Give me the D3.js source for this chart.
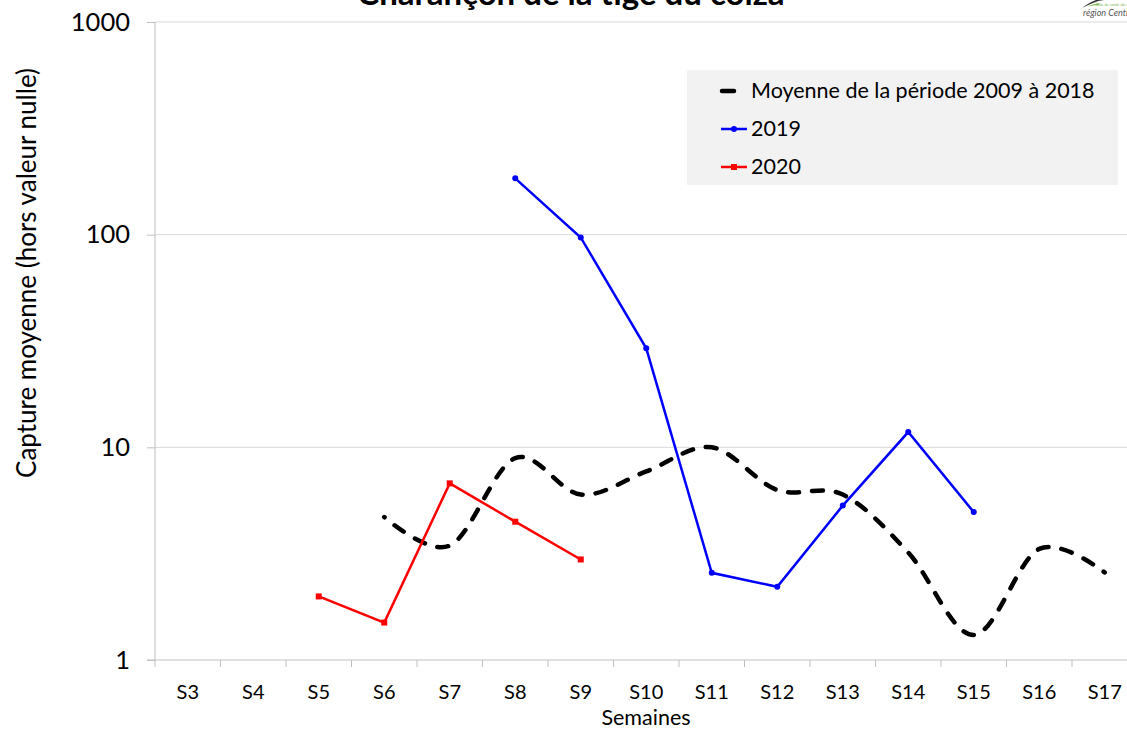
<!DOCTYPE html>
<html>
<head>
<meta charset="utf-8">
<script src="https://cdn.jsdelivr.net/npm/d3@7"></script>
<style>
  html, body { margin: 0; padding: 0; background: #fff; overflow: hidden; }
  svg { display: block; font-family: Lato, "Open Sans", sans-serif; }
</style>
</head>
<body>
<svg id="chart" width="1127" height="731"></svg>
<script>
// ---- data ----
const weeks = ["S3","S4","S5","S6","S7","S8","S9","S10","S11","S12","S13","S14","S15","S16","S17"];
const moyenne = [null, null, null, 4.7, 3.45, 8.9, 6.0, 7.7, 10.0, 6.3, 6.0, 3.2, 1.31, 3.33, 2.58];
const serie2019 = [null, null, null, null, null, 184, 97, 29.2, 2.57, 2.21, 5.32, 11.8, 4.96, null, null];
const serie2020 = [null, null, 1.99, 1.5, 6.77, 4.47, 2.97, null, null, null, null, null, null, null, null];
const yTicks = [1, 10, 100, 1000];
const chartTitle = "Charançon de la tige du colza";
const yTitle = "Capture moyenne (hors valeur nulle)";
const xTitle = "Semaines";
const legendLabels = ["Moyenne de la période 2009 à 2018", "2019", "2020"];

(function () {
// ---- layout ----
const svg = d3.select("#chart");
const pLeft = 155, pTop = 22, pBottom = 660, bandW = 65.5;
const pRight = pLeft + bandW * weeks.length;

const x = d3.scaleBand().domain(weeks).range([pLeft, pRight]).paddingInner(0).paddingOuter(0);
const y = d3.scaleLog().domain([1, 1000]).range([pBottom, pTop]);
const cx = d => x(d) + x.bandwidth() / 2;

// gridlines
svg.append("g").selectAll("line")
  .data(yTicks.filter(v => v > 1))
  .join("line")
  .attr("x1", pLeft).attr("x2", 1127)
  .attr("y1", d => y(d)).attr("y2", d => y(d))
  .attr("stroke", "#d9d9d9").attr("stroke-width", 1);

// y axis
const yAxis = svg.append("g").attr("transform", `translate(${pLeft},0)`)
  .call(d3.axisLeft(y).tickValues(yTicks).tickFormat(d3.format("d")).tickSize(8).tickPadding(17));
yAxis.select(".domain").attr("stroke", "#bfbfbf").attr("d", `M0,${pTop}V${pBottom}`);
yAxis.selectAll(".tick line").attr("stroke", "#bfbfbf");
yAxis.selectAll(".tick text").attr("font-size", 25.5).attr("fill", "#000")
  .attr("font-family", "Lato, sans-serif");

// x axis
const xAxis = svg.append("g").attr("transform", `translate(0,${pBottom})`)
  .call(d3.axisBottom(x).tickSize(0).tickPadding(0));
xAxis.select(".domain").attr("stroke", "#bfbfbf").attr("d", `M${pLeft - 8},0H${pRight}`);
xAxis.selectAll(".tick text").attr("font-size", 20).attr("fill", "#000")
  .attr("y", 39).attr("dy", 0).attr("font-family", "Lato, sans-serif");
// band boundary ticks
svg.append("g").selectAll("line")
  .data(weeks)
  .join("line")
  .attr("x1", d => x(d)).attr("x2", d => x(d))
  .attr("y1", pBottom).attr("y2", pBottom + 7)
  .attr("stroke", "#bfbfbf").attr("stroke-width", 1);

// titles
svg.append("text").attr("x", 571).attr("y", 5).attr("text-anchor", "middle")
  .attr("font-size", 33).attr("font-weight", "bold").text(chartTitle);
svg.append("text").attr("transform", "translate(36,273) rotate(-90)")
  .attr("text-anchor", "middle").attr("font-size", 26).text(yTitle);
svg.append("text").attr("x", 646).attr("y", 725).attr("text-anchor", "middle")
  .attr("font-size", 21.5).text(xTitle);

// series
const pts = arr => weeks.map((w, i) => ({ w, v: arr[i] })).filter(d => d.v != null);

const smooth = d3.line().x(d => cx(d.w)).y(d => y(d.v)).curve(d3.curveCardinal.tension(0));
const straight = d3.line().x(d => cx(d.w)).y(d => y(d.v));

svg.append("path").datum(pts(moyenne))
  .attr("d", smooth).attr("fill", "none").attr("stroke", "#000")
  .attr("stroke-width", 4.5).attr("stroke-linecap", "round")
  .attr("stroke-dasharray", "11 13").attr("stroke-dashoffset", 10.5);

svg.append("path").datum(pts(serie2019))
  .attr("d", straight).attr("fill", "none").attr("stroke", "#0000ff").attr("stroke-width", 2.5);
svg.append("g").selectAll("circle").data(pts(serie2019)).join("circle")
  .attr("cx", d => cx(d.w)).attr("cy", d => y(d.v)).attr("r", 3).attr("fill", "#0000ff");

svg.append("path").datum(pts(serie2020))
  .attr("d", straight).attr("fill", "none").attr("stroke", "#ff0000").attr("stroke-width", 2.5);
svg.append("g").selectAll("rect").data(pts(serie2020)).join("rect")
  .attr("x", d => cx(d.w) - 3).attr("y", d => y(d.v) - 3)
  .attr("width", 6).attr("height", 6).attr("fill", "#ff0000");

// legend
const lg = svg.append("g");
lg.append("rect").attr("x", 687).attr("y", 70).attr("width", 431).attr("height", 115).attr("fill", "#f2f2f2");
const rowsY = [91, 129, 167];
lg.append("line").attr("x1", 722).attr("x2", 734).attr("y1", rowsY[0]).attr("y2", rowsY[0])
  .attr("stroke", "#000").attr("stroke-width", 4.5).attr("stroke-linecap", "round");
lg.append("line").attr("x1", 721).attr("x2", 747).attr("y1", rowsY[1]).attr("y2", rowsY[1])
  .attr("stroke", "#0000ff").attr("stroke-width", 2.5);
lg.append("circle").attr("cx", 734).attr("cy", rowsY[1]).attr("r", 3).attr("fill", "#0000ff");
lg.append("line").attr("x1", 721).attr("x2", 747).attr("y1", rowsY[2]).attr("y2", rowsY[2])
  .attr("stroke", "#ff0000").attr("stroke-width", 2.5);
lg.append("rect").attr("x", 731).attr("y", rowsY[2] - 3).attr("width", 6).attr("height", 6).attr("fill", "#ff0000");
lg.selectAll("text").data(legendLabels).join("text")
  .attr("x", 751).attr("y", (d, i) => rowsY[i] + 7)
  .attr("font-size", 21.5).attr("fill", "#000").text(d => d);

// logo (partially visible in the corner)
const logo = svg.append("g");
logo.append("path").attr("d", "M1082,8 C1090,4 1096,1 1104,0 L1096,0 C1090,2 1086,5 1082,8 Z").attr("fill", "#333");
logo.append("path").attr("d", "M1086,7 C1092,4.5 1096,3.5 1100,3.5 L1098,5 C1094,5 1090,6 1086,7 Z").attr("fill", "#7ab648");
logo.append("text").attr("x", 1096).attr("y", 5.5).attr("font-size", 4).attr("fill", "#7ab648").text("Bâle de santé du végétal");
logo.append("text").attr("x", 1083).attr("y", 16).attr("font-size", 9).attr("font-style", "italic")
  .attr("fill", "#555").text("région Centre");
})();
</script>
</body>
</html>
